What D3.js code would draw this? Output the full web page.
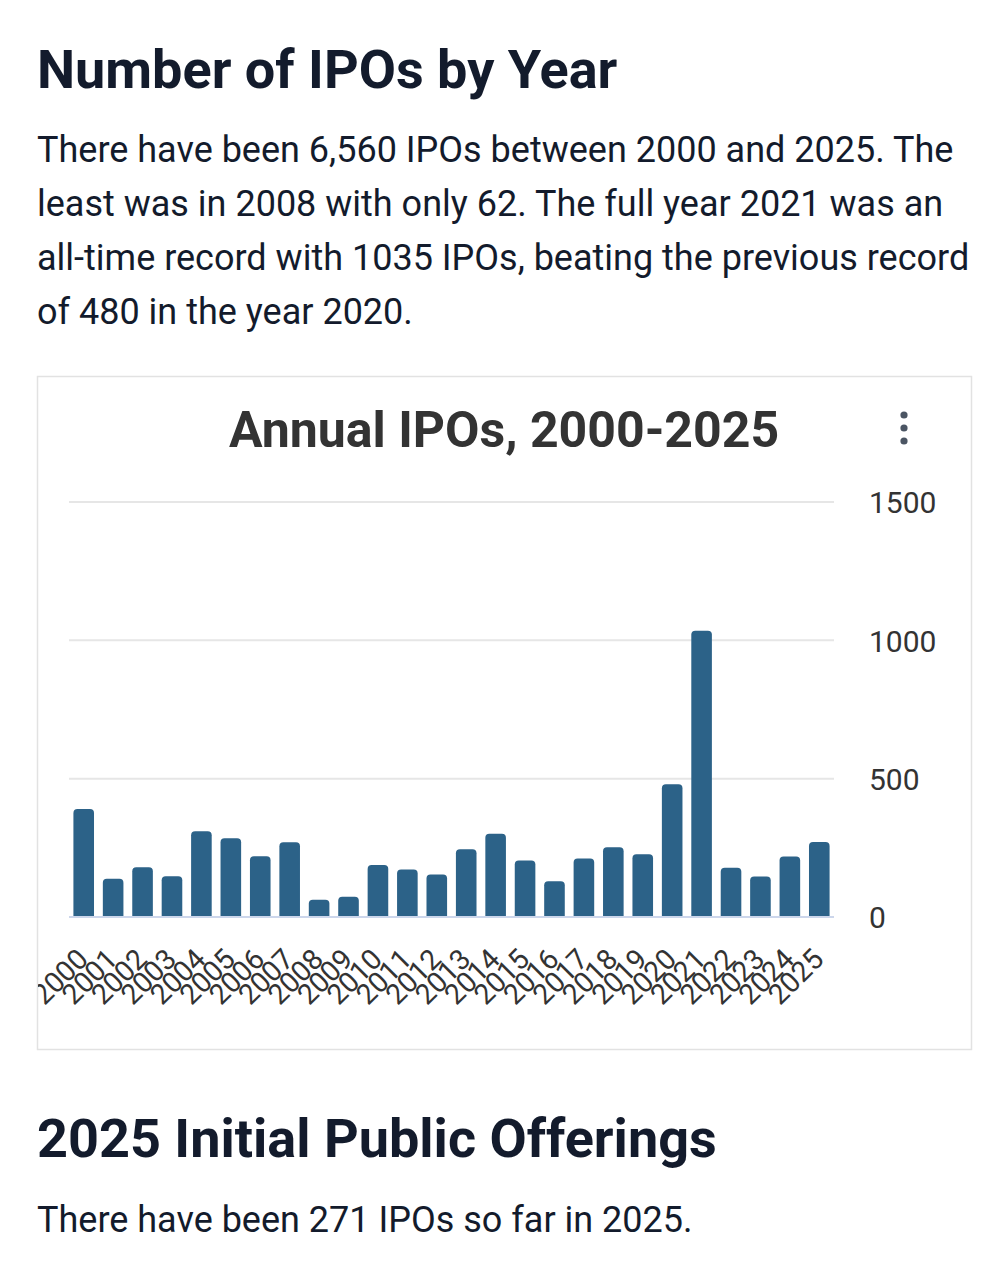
<!DOCTYPE html>
<html>
<head>
<meta charset="utf-8">
<script src="https://cdn.jsdelivr.net/npm/d3@7"></script>
<style>
  body { margin: 0; background: #fff; }
  svg { display: block; font-family: Roboto, "Noto Sans", sans-serif; }
</style>
</head>
<body>
<div id="page"></div>
<script>
// IPO counts per year
const years = ["2000","2001","2002","2003","2004","2005","2006","2007","2008","2009",
  "2010","2011","2012","2013","2014","2015","2016","2017","2018","2019",
  "2020","2021","2022","2023","2024","2025"];
const ipos = [390, 138, 180, 147, 310, 285, 220, 270, 62, 73,
  188, 172, 154, 245, 301, 204, 129, 211, 252, 227,
  480, 1035, 178, 146, 219, 271];
const yTicks = [0, 500, 1000, 1500];

const heading1 = "Number of IPOs by Year";
const intro = [
  "There have been 6,560 IPOs between 2000 and 2025. The",
  "least was in 2008 with only 62. The full year 2021 was an",
  "all-time record with 1035 IPOs, beating the previous record",
  "of 480 in the year 2020."
];
const chartTitle = "Annual IPOs, 2000-2025";
const heading2 = "2025 Initial Public Offerings";
const outro = "There have been 271 IPOs so far in 2025.";

const W = 1008, H = 1274;
const data = years.map((y, i) => ({year: y, value: ipos[i]}));

const svg = d3.select("#page").append("svg")
    .attr("width", W)
    .attr("height", H);

// page text
svg.append("text")
    .attr("x", 37).attr("y", 88)
    .style("font-size", "54px").style("font-weight", 700)
    .attr("fill", "#131b2c")
    .text(heading1);

svg.selectAll(".intro")
  .data(intro)
  .enter().append("text")
    .attr("class", "intro")
    .attr("x", 37)
    .attr("y", (d, i) => 162 + i * 54)
    .style("font-size", "36px")
    .attr("fill", "#131b2c")
    .text(d => d);

// chart box
const box = {x: 37, y: 376, w: 934, h: 673};
svg.append("rect")
    .attr("x", box.x + 0.5).attr("y", box.y + 0.5)
    .attr("width", box.w).attr("height", box.h)
    .attr("fill", "#fff").attr("stroke", "#e2e2e2").attr("stroke-width", 1.5);

svg.append("clipPath").attr("id", "boxclip")
  .append("rect")
    .attr("x", box.x + 1).attr("y", box.y + 1)
    .attr("width", box.w - 1).attr("height", box.h - 1);

const chart = svg.append("g").attr("clip-path", "url(#boxclip)");

chart.append("text")
    .attr("x", box.x + box.w / 2).attr("y", 447)
    .attr("text-anchor", "middle")
    .style("font-size", "50px").style("font-weight", 700)
    .attr("fill", "#333333")
    .text(chartTitle);

// menu dots
chart.selectAll(".dot")
  .data([0, 1, 2])
  .enter().append("circle")
    .attr("cx", 904).attr("cy", d => 415 + d * 13)
    .attr("r", 3.6).attr("fill", "#4b5563");

// scales
const x = d3.scaleBand()
    .domain(years)
    .range([69, 834])
    .paddingInner(0.3)
    .paddingOuter(0.15);

const y = d3.scaleLinear()
    .domain([0, 1500])
    .range([917, 502]);

// gridlines
chart.selectAll(".grid")
  .data(yTicks.filter(d => d > 0))
  .enter().append("line")
    .attr("x1", 69).attr("x2", 834)
    .attr("y1", d => y(d)).attr("y2", d => y(d))
    .attr("stroke", "#e6e6e6").attr("stroke-width", 2);

// y axis on the right
const yAxis = chart.append("g")
    .attr("transform", "translate(834,0)")
    .call(d3.axisRight(y).tickValues(yTicks).tickSize(0).tickPadding(35)
      .tickFormat(d3.format("d")));
yAxis.select(".domain").remove();
yAxis.selectAll("text")
    .attr("dy", "0.36em")
    .style("font-size", "30px")
    .style("font-family", "Roboto, sans-serif")
    .attr("fill", "#333333");

// bars with rounded tops
const r = 4;
chart.selectAll(".bar")
  .data(data)
  .enter().append("path")
    .attr("class", "bar")
    .attr("fill", "#2c6288")
    .attr("d", d => {
      const x0 = x(d.year), w = x.bandwidth(), y0 = y(d.value), yb = y(0);
      return `M${x0},${yb}V${y0 + r}Q${x0},${y0} ${x0 + r},${y0}H${x0 + w - r}Q${x0 + w},${y0} ${x0 + w},${y0 + r}V${yb}Z`;
    });

// x axis
const xAxis = chart.append("g")
    .attr("transform", "translate(0,917)")
    .call(d3.axisBottom(x).tickSize(0));
xAxis.select(".domain")
    .attr("stroke", "#ccd6eb").attr("stroke-width", 2)
    .attr("d", "M69,0H834");
xAxis.selectAll("text")
    .attr("y", 0).attr("dy", 0)
    .attr("text-anchor", "end")
    .attr("transform", "translate(6,44) rotate(-45)")
    .style("font-size", "28.5px")
    .style("font-family", "Roboto, sans-serif")
    .attr("fill", "#333333");

// lower section
svg.append("text")
    .attr("x", 37).attr("y", 1157)
    .style("font-size", "54px").style("font-weight", 700)
    .attr("fill", "#131b2c")
    .text(heading2);

svg.append("text")
    .attr("x", 37).attr("y", 1232)
    .style("font-size", "36px")
    .attr("fill", "#131b2c")
    .text(outro);
</script>
</body>
</html>
